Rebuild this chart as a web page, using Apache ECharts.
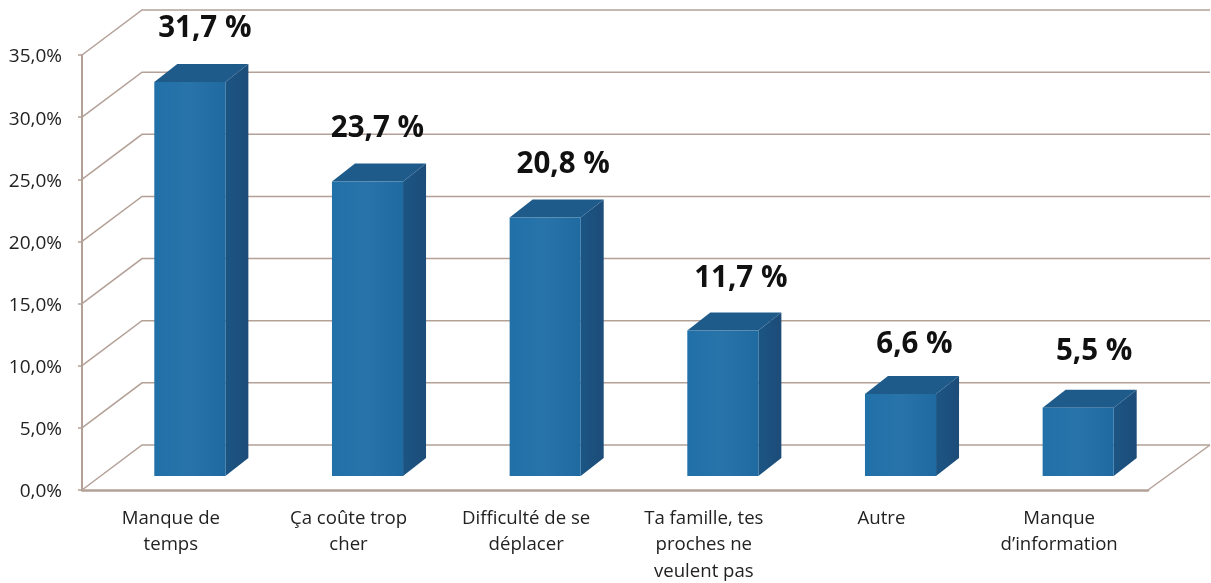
<!DOCTYPE html>
<html><head><meta charset="utf-8">
<style>html,body{margin:0;padding:0;background:#fff}#c{width:1211px;height:583px}</style>
<script src="https://cdn.jsdelivr.net/npm/echarts@6/dist/echarts.min.js"></script>
</head><body><div id="c"></div>
<script>
const categories = ['Manque de\ntemps', 'Ça coûte trop\ncher', 'Difficulté de se\ndéplacer', 'Ta famille, tes\nproches ne\nveulent pas', 'Autre', 'Manque\nd’information'];
const values = [31.7, 23.7, 20.8, 11.7, 6.6, 5.5];
const yTicks = [0, 5, 10, 15, 20, 25, 30, 35];

const GRID = '#b3a197', WALL_DX = 60, WALL_DY = -45, BAR_DX = 19, BAR_DY = -14, DEPTH_X = 23, DEPTH_Y = -18;
const LABEL_NUDGE = [15, 10, 18, 18, 14, 16];
const LABEL_LIFT = [53, 53, 53, 52, 49, 56];
const comma = (v, d) => v.toFixed(d).replace('.', ',');
const chart = echarts.init(document.getElementById('c'), null, {renderer: 'canvas'});

function renderWall(params, api) {
  const p = api.coord([0, api.value(0)]);
  const cs = params.coordSys;
  const x0 = cs.x, x1 = cs.x + cs.width, y = p[1];
  const ch = [{
    type: 'polyline', silent: true,
    shape: {points: [[x0, y], [x0 + WALL_DX, y + WALL_DY], [x1 + WALL_DX + 2, y + WALL_DY]]},
    style: {stroke: GRID, lineWidth: 1.5, fill: null}
  }];
  if (api.value(0) === 0) {
    ch.push({type: 'line', silent: true,
      shape: {x1: x1, y1: y, x2: x1 + WALL_DX + 2, y2: y + WALL_DY},
      style: {stroke: GRID, lineWidth: 1.5}});
  }
  return {type: 'group', children: ch};
}

function renderBar(params, api) {
  const i = api.value(0), v = api.value(1);
  const top = api.coord([i, v]), bot = api.coord([i, 0]);
  const w = api.size([1, 0])[0] * 0.4;
  const l = top[0] + BAR_DX - w / 2, r = l + w, t = top[1] + BAR_DY, b = bot[1] + BAR_DY;
  return {type: 'group', children: [
    {type: 'polygon', shape: {points: [[r, t], [r + DEPTH_X, t + DEPTH_Y], [r + DEPTH_X, b + DEPTH_Y], [r, b]]},
      style: {fill: new echarts.graphic.LinearGradient(0, 0, 1, 0, [{offset: 0, color: '#1b5584'}, {offset: 1, color: '#1d4c78'}])}},
    {type: 'polygon', shape: {points: [[l, t], [l + DEPTH_X, t + DEPTH_Y], [r + DEPTH_X, t + DEPTH_Y], [r, t]]},
      style: {fill: '#1f5b8a'}},
    {type: 'rect', shape: {x: l, y: t, width: w, height: b - t},
      style: {fill: new echarts.graphic.LinearGradient(0, 0, 1, 0, [
        {offset: 0, color: '#2170a8'}, {offset: 0.5, color: '#2874aa'}, {offset: 1, color: '#1f6ba1'}])}},
    {type: 'text', style: {
      x: (l + r) / 2 + LABEL_NUDGE[i], y: t - LABEL_LIFT[i], text: comma(v, 1) + ' %', align: 'center', verticalAlign: 'middle',
      font: 'bold 29.5px "Open Sans", sans-serif', fill: '#111'}}
  ]};
}

chart.setOption({
  animation: false,
  backgroundColor: '#fff',
  grid: {left: 82, right: 63, top: 55, bottom: 93, outerBoundsMode: 'none'},
  xAxis: {
    type: 'category', data: categories,
    axisLine: {lineStyle: {color: GRID, width: 2.5}},
    axisTick: {show: false},
    axisLabel: {interval: 0, margin: 15, color: '#222', fontFamily: 'Open Sans', fontSize: 18.6, lineHeight: 26.5}
  },
  yAxis: {
    type: 'value', min: 0, max: 35, interval: 5,
    axisLine: {show: true, lineStyle: {color: GRID, width: 2}},
    axisTick: {show: true, length: 4, lineStyle: {color: GRID, width: 1.5}},
    splitLine: {show: false},
    axisLabel: {color: '#222', fontFamily: 'Open Sans', fontSize: 19, margin: 20,
      formatter: v => '{v|' + comma(v, 1) + '%}',
      rich: {v: {color: '#222', fontFamily: 'Open Sans', fontSize: 19, padding: [4, 0, 0, 0]}}}
  },
  series: [
    {type: 'custom', coordinateSystem: 'cartesian2d', clip: false, z: 1, silent: true,
      data: yTicks.map(t => [t]), encode: {y: 0}, renderItem: renderWall},
    {type: 'custom', coordinateSystem: 'cartesian2d', clip: false, z: 2, silent: true,
      data: values.map((v, i) => [i, v]), encode: {x: 0, y: 1}, renderItem: renderBar}
  ]
});
</script></body></html>
